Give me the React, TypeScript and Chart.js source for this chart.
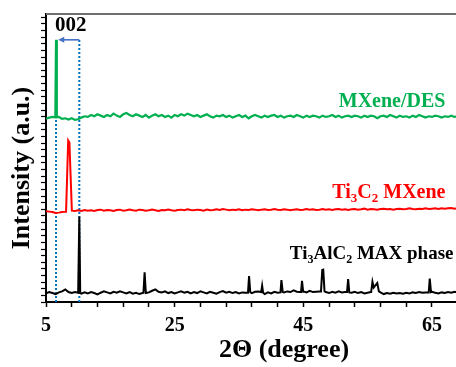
import React, { useEffect, useRef } from 'react';
import { Chart, registerables } from 'chart.js';

Chart.register(...registerables);

const FONT = '"Liberation Serif", "DejaVu Serif", serif';

// 2θ scan grid: 5.0° to 69.0° every 0.5°
const SCAN_START = 5;
const SCAN_STEP = 0.5;

const xTickValues = [5, 9, 13, 17, 21, 25, 29, 33, 37, 41, 45, 49, 53, 57, 61, 65, 69, 73, 77];
const xTickLabels = [5, 25, 45, 65];
const yTickValues = Array.from({ length: 44 }, (_, i) => i);

// MXene/DES (green)
const desBase = [
  27.7, 27.85, 27.95, 27.85, 27.95, 27.65, 27.75, 27.55, 27.75, 27.5,
  27.6, 27.85, 28.05, 27.95, 28.25, 28.05, 28.35, 28.15, 27.95, 28.25,
  28.05, 28.45, 28.15, 27.95, 28.35, 28.55, 28.25, 28.05, 28.35, 28.15,
  27.95, 28.25, 27.85, 28.15, 28.35, 28.05, 28.25, 27.95, 28.15, 27.85,
  28.25, 28.05, 28.35, 28.15, 28.45, 28.25, 28.05, 28.25, 27.95, 28.15,
  28.35, 28.05, 27.85, 28.15, 28.05, 28.25, 27.95, 28.15, 27.85, 28.05,
  28.25, 27.95, 28.15, 27.75, 28.05, 28.25, 28.05, 27.85, 28.15, 27.95,
  28.15, 28.25, 27.95, 28.15, 27.85, 28.05, 28.15, 27.95, 28.25, 28.05,
  27.85, 28.15, 27.95, 28.15, 28.05, 27.85, 28.15, 27.95, 28.05, 28.25,
  27.95, 28.15, 27.85, 28.05, 28.15, 27.95, 28.15, 28.05, 27.85, 28.15,
  27.95, 28.15, 28.05, 27.75, 28.05, 28.15, 27.95, 28.25, 28.05, 27.85,
  28.15, 27.95, 28.05, 27.85, 28.15, 27.95, 28.25, 28.05, 27.85, 28.05,
  27.95, 28.15, 28.05, 27.85, 28.05, 27.95, 28.15, 27.95, 28.05,
];
const desPeaks = [
  [[6.45, 27.9], [6.56, 39.6], [6.68, 27.9]],
];

// Ti3C2 MXene (red)
const mxeneBase = [
  13.7, 13.65, 13.6, 13.45, 13.5, 13.6, 13.65, 13.7, 13.8, 13.75,
  13.85, 13.75, 13.9, 13.8, 13.85, 13.75, 13.9, 13.95, 13.8, 13.9,
  13.85, 13.75, 13.9, 13.95, 13.8, 13.85, 13.95, 13.85, 13.8, 13.95,
  13.9, 13.8, 13.85, 13.95, 13.85, 13.75, 13.9, 13.85, 13.95, 13.85,
  13.8, 13.9, 13.95, 13.85, 14.0, 13.9, 13.85, 13.95, 13.9, 13.8,
  13.95, 13.85, 13.9, 14.0, 13.9, 14.05, 13.95, 13.85, 13.95, 13.9,
  14.0, 13.85, 13.95, 13.9, 14.0, 13.95, 13.85, 13.95, 14.0, 13.9,
  13.95, 14.05, 13.95, 13.9, 14.0, 13.95, 13.85, 13.95, 14.0, 13.9,
  13.95, 14.05, 13.95, 14.0, 13.9, 13.95, 14.05, 13.95, 14.0, 13.9,
  14.0, 14.05, 13.95, 14.0, 13.9, 14.0, 14.05, 13.95, 14.0, 14.1,
  13.95, 14.05, 14.0, 13.95, 14.05, 14.1, 14.0, 14.05, 13.95, 14.05,
  14.1, 14.0, 14.05, 14.15, 14.05, 14.0, 14.1, 14.05, 14.15, 14.05,
  14.1, 14.15, 14.05, 14.15, 14.1, 14.15, 14.2, 14.1, 14.15,
];
const mxenePeaks = [
  [[8.12, 13.65], [8.45, 24.4], [8.64, 24.1], [9.02, 13.8]],
];

// Ti3AlC2 MAX phase (black)
const maxBase = [
  1.3, 1.5, 1.35, 1.2, 1.45, 1.6, 1.9, 1.5, 1.35, 1.5,
  1.4, 1.25, 1.45, 1.3, 1.5, 1.35, 1.15, 1.4, 1.6, 1.45,
  1.3, 1.55, 1.4, 1.6, 1.45, 1.3, 1.5, 1.25, 1.4, 1.2,
  1.35, 1.3, 1.45, 1.7, 1.9, 1.55, 1.45, 1.6, 1.35, 1.5,
  1.3, 1.45, 1.6, 1.4, 1.55, 1.3, 1.5, 1.35, 1.6, 1.45,
  1.3, 1.55, 1.4, 1.25, 1.5, 1.65, 1.4, 1.55, 1.35, 1.5,
  1.3, 1.45, 1.4, 1.5, 1.35, 1.55, 1.6, 1.4, 1.2, 1.45,
  1.3, 1.55, 1.4, 1.5, 1.45, 1.6, 1.5, 1.75, 1.55, 1.5,
  1.6, 1.45, 1.7, 1.5, 1.55, 1.6, 1.65, 1.5, 1.35, 1.55,
  1.4, 1.6, 1.45, 1.5, 1.5, 1.4, 1.55, 1.35, 1.5, 1.3,
  1.4, 1.5, 1.6, 1.5, 1.45, 1.2, 1.35, 1.25, 1.4, 1.3,
  1.35, 1.25, 1.4, 1.3, 1.45, 1.35, 1.5, 1.4, 1.45, 1.5,
  1.55, 1.4, 1.3, 1.45, 1.35, 1.5, 1.4, 1.55, 1.45,
];
const maxPeaks = [
  [[10.03, 1.4], [10.18, 12.9], [10.32, 1.35]],
  [[20.15, 1.4], [20.33, 4.5], [20.52, 1.35]],
  [[36.4, 1.4], [36.57, 3.9], [36.75, 1.5]],
  [[38.45, 1.5], [38.6, 2.45], [38.75, 1.4]],
  [[41.45, 1.45], [41.6, 3.3], [41.8, 1.5]],
  [[44.65, 1.5], [44.8, 3.2], [44.98, 1.55]],
  [[47.75, 1.6], [47.95, 4.85], [48.1, 4.9], [48.3, 1.6]],
  [[51.8, 1.5], [51.97, 3.45], [52.15, 1.45]],
  [[55.55, 1.5], [55.75, 3.05], [55.95, 2.2], [56.5, 2.85], [56.75, 1.6]],
  [[64.5, 1.45], [64.66, 3.55], [64.85, 1.5]],
];

// (002) reflection positions and arrow level
const peak002 = [6.56, 10.18];
const arrowLevel = 39.6;
const arrowTip = 6.9;
const label002 = { text: '002', x: 8.86, y: 40.9 };

// curve labels: [right x, baseline y]
const labelDES = { segs: [{ t: 'MXene/DES' }], x: 67.1, y: 29.45, color: '#00B050', size: 20 };
const labelMX = { segs: [{ t: 'Ti' }, { t: '3', sub: true }, { t: 'C' }, { t: '2', sub: true }, { t: ' MXene' }], x: 67.1, y: 15.73, color: '#FF0000', size: 20 };
const labelMAX = { segs: [{ t: 'Ti' }, { t: '3', sub: true }, { t: 'AlC' }, { t: '2', sub: true }, { t: ' MAX phase' }], x: 68.35, y: 6.44, color: '#000000', size: 19 };

function buildSeries(base: number[], peaks: number[][][]) {
  const pts = base.map((y, i) => ({ x: SCAN_START + i * SCAN_STEP, y }));
  const ranges = peaks.map((p) => [p[0][0], p[p.length - 1][0]]);
  const kept = pts.filter((pt) => !ranges.some(([a, b]) => pt.x >= a && pt.x <= b));
  peaks.forEach((p) => p.forEach(([x, y]) => kept.push({ x, y })));
  kept.sort((a, b) => a.x - b.x);
  return kept;
}

function drawRich(ctx: CanvasRenderingContext2D, lab: any, px: number, py: number) {
  const size = lab.size;
  const main = `bold ${size}px ${FONT}`;
  const sub = `bold ${Math.round(size * 0.65)}px ${FONT}`;
  const widths = lab.segs.map((s: any) => {
    ctx.font = s.sub ? sub : main;
    return ctx.measureText(s.t).width;
  });
  const total = widths.reduce((a: number, b: number) => a + b, 0);
  let x = px - total;
  ctx.fillStyle = lab.color;
  ctx.textAlign = 'left';
  ctx.textBaseline = 'alphabetic';
  lab.segs.forEach((s: any, i: number) => {
    ctx.font = s.sub ? sub : main;
    ctx.fillText(s.t, x, s.sub ? py + size * 0.2 : py);
    x += widths[i];
  });
}

const annotations = {
  id: 'annotations',
  afterDatasetsDraw(chart: any) {
    const { ctx, chartArea, scales } = chart;
    const xs = scales.x;
    const ys = scales.y;
    ctx.save();
    // top frame
    ctx.strokeStyle = '#6e6e6e';
    ctx.lineWidth = 2;
    ctx.beginPath();
    ctx.moveTo(chartArea.left, chartArea.top);
    ctx.lineTo(chartArea.right, chartArea.top);
    ctx.stroke();
    // arrow
    const ay = ys.getPixelForValue(arrowLevel);
    const ax1 = xs.getPixelForValue(peak002[1]);
    const ax2 = xs.getPixelForValue(arrowTip);
    ctx.strokeStyle = '#4472C4';
    ctx.fillStyle = '#4472C4';
    ctx.lineWidth = 1.6;
    ctx.beginPath();
    ctx.moveTo(ax1, ay);
    ctx.lineTo(ax2 + 4, ay);
    ctx.stroke();
    ctx.beginPath();
    ctx.moveTo(ax2, ay);
    ctx.lineTo(ax2 + 6, ay - 3);
    ctx.lineTo(ax2 + 6, ay + 3);
    ctx.closePath();
    ctx.fill();
    // 002
    ctx.fillStyle = '#000';
    ctx.font = `bold 21px ${FONT}`;
    ctx.textAlign = 'center';
    ctx.textBaseline = 'alphabetic';
    ctx.fillText(label002.text, xs.getPixelForValue(label002.x), ys.getPixelForValue(label002.y));
    // curve labels
    [labelDES, labelMX, labelMAX].forEach((lab) => {
      drawRich(ctx, lab, xs.getPixelForValue(lab.x), ys.getPixelForValue(lab.y));
    });
    // y title
    ctx.translate(chartArea.left - 23.5, (chartArea.top + chartArea.bottom) / 2 + 10);
    ctx.rotate(-Math.PI / 2);
    ctx.fillStyle = '#000';
    ctx.font = `bold 26px ${FONT}`;
    ctx.textAlign = 'center';
    ctx.textBaseline = 'middle';
    ctx.fillText('Intensity (a.u.)', 0, 0);
    ctx.restore();
  },
};

export default function App() {
  const ref = useRef<HTMLCanvasElement>(null);
  useEffect(() => {
    if (!ref.current) return;
    const line = (data: any[], color: string, width: number, dash: number[] = []) => ({
      data,
      borderColor: color,
      backgroundColor: color,
      borderWidth: width,
      borderDash: dash,
      pointRadius: 0,
      tension: 0,
      fill: false,
      showLine: true,
    });
    const chart = new Chart(ref.current, {
      type: 'line',
      data: {
        datasets: [
          line(buildSeries(desBase, desPeaks), '#00B050', 2.2),
          line(buildSeries(mxeneBase, mxenePeaks), '#FF0000', 2),
          line(buildSeries(maxBase, maxPeaks), '#000000', 2),
          line([{ x: peak002[0], y: 0 }, { x: peak002[0], y: arrowLevel }], '#0070C0', 2, [2, 2]),
          line([{ x: peak002[1], y: 0 }, { x: peak002[1], y: arrowLevel }], '#0070C0', 2, [2, 2]),
        ],
      },
      options: {
        responsive: false,
        animation: false,
        layout: { padding: { left: 0, top: 14, right: 0, bottom: 0 } },
        plugins: { legend: { display: false }, tooltip: { enabled: false } },
        scales: {
          x: {
            type: 'linear',
            min: 5,
            max: 79,
            afterBuildTicks: (s: any) => {
              s.ticks = xTickValues.map((v) => ({ value: v }));
            },
            afterFit: (s: any) => {
              s.height = 65;
            },
            ticks: {
              autoSkip: false,
              maxRotation: 0,
              padding: 7,
              color: '#000',
              font: { family: FONT, size: 20, weight: 'bold' },
              callback: (v: any) => (xTickLabels.includes(Number(v)) ? String(v) : ''),
            },
            grid: { drawOnChartArea: false, drawTicks: true, tickLength: 5, tickWidth: 1.5, tickColor: '#000' },
            border: { display: true, color: '#000', width: 2 },
            title: {
              display: true,
              text: '2\u0398 (degree)',
              color: '#000',
              font: { family: FONT, size: 26, weight: 'bold' },
              padding: { top: 0, bottom: 1 },
            },
          },
          y: {
            type: 'linear',
            min: 0,
            max: 43.5,
            afterBuildTicks: (s: any) => {
              s.ticks = yTickValues.map((v) => ({ value: v }));
            },
            afterFit: (s: any) => {
              s.width = 46;
            },
            ticks: { display: false },
            grid: { drawOnChartArea: false, drawTicks: true, tickLength: 5, tickWidth: 1.2, tickColor: '#000' },
            border: { display: true, color: '#000', width: 2 },
          },
        },
      },
      plugins: [annotations],
    } as any);
    return () => chart.destroy();
  }, []);
  return (
    <div style={{ position: 'absolute', left: 0, top: 0, width: 456, height: 367, overflow: 'hidden', background: '#fff' }}>
      <canvas ref={ref} width={522} height={367} style={{ display: 'block' }} />
    </div>
  );
}
